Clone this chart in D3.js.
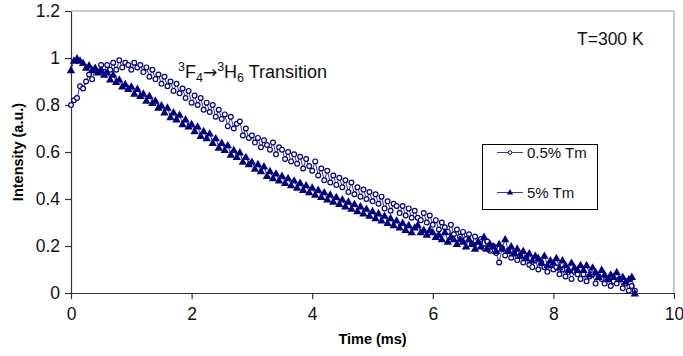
<!DOCTYPE html>
<html>
<head>
<meta charset="utf-8">
<title>Tm decay</title>
<script src="https://cdn.jsdelivr.net/npm/d3@7/dist/d3.min.js"></script>
<style>
  body { margin: 0; background: #fff; }
  svg { font-family: "Liberation Sans", Arial, sans-serif; }
</style>
</head>
<body>
<div id="chart"></div>
<script>
// sampling of the decay curves (ms)
var timeStep = 0.05;

// 0.5% Tm (open circles)
var lowTm = [
  0.80, 0.82, 0.83, 0.88, 0.87, 0.90, 0.93, 0.91, 0.95, 0.94,
  0.97, 0.94, 0.97, 0.95, 0.98, 0.95, 0.99, 0.96, 0.98, 0.97,
  0.95, 0.98, 0.96, 0.97, 0.94, 0.96, 0.92, 0.95, 0.91, 0.93,
  0.89, 0.92, 0.88, 0.90, 0.86, 0.89, 0.85, 0.87, 0.83, 0.86,
  0.81, 0.84, 0.80, 0.83, 0.78, 0.81, 0.77, 0.80, 0.75, 0.78,
  0.74, 0.76, 0.71, 0.75, 0.70, 0.72, 0.73, 0.67, 0.70, 0.66,
  0.67, 0.64, 0.66, 0.62, 0.65, 0.63, 0.61, 0.64, 0.59, 0.62,
  0.61, 0.57, 0.60, 0.56, 0.59, 0.55, 0.58, 0.53, 0.57, 0.54,
  0.52, 0.56, 0.50, 0.53, 0.48, 0.52, 0.47, 0.50, 0.46, 0.49,
  0.45, 0.48, 0.43, 0.47, 0.42, 0.45, 0.41, 0.44, 0.40, 0.43,
  0.39, 0.42, 0.38, 0.41, 0.36, 0.39, 0.35, 0.38, 0.37, 0.34,
  0.37, 0.33, 0.36, 0.32, 0.35, 0.32, 0.31, 0.34, 0.30, 0.33,
  0.29, 0.31, 0.27, 0.30, 0.28, 0.26, 0.29, 0.25, 0.27, 0.24,
  0.26, 0.23, 0.25, 0.21, 0.24, 0.20, 0.23, 0.19, 0.22, 0.18,
  0.20, 0.17, 0.13, 0.19, 0.16, 0.18, 0.15, 0.17, 0.14, 0.16,
  0.13, 0.15, 0.12, 0.11, 0.14, 0.10, 0.13, 0.11, 0.09, 0.12,
  0.10, 0.11, 0.08, 0.10, 0.07, 0.09, 0.06, 0.09, 0.08, 0.06,
  0.08, 0.05, 0.07, 0.08, 0.04, 0.07, 0.06, 0.04, 0.06, 0.03,
  0.05, 0.04, 0.06, 0.02, 0.04, 0.01, 0.03, 0.01
];

// 5% Tm (filled triangles)
var highTm = [
  0.95, 0.99, 1.00, 0.99, 0.98, 0.96, 0.97, 0.95, 0.96, 0.94,
  0.95, 0.93, 0.94, 0.91, 0.93, 0.90, 0.91, 0.88, 0.89, 0.87,
  0.88, 0.85, 0.87, 0.84, 0.85, 0.82, 0.84, 0.81, 0.82, 0.79,
  0.80, 0.77, 0.79, 0.75, 0.77, 0.74, 0.76, 0.72, 0.74, 0.71,
  0.72, 0.69, 0.71, 0.67, 0.69, 0.66, 0.68, 0.64, 0.66, 0.62,
  0.64, 0.61, 0.63, 0.59, 0.61, 0.58, 0.60, 0.56, 0.58, 0.55,
  0.56, 0.53, 0.55, 0.52, 0.54, 0.50, 0.52, 0.49, 0.51, 0.48,
  0.50, 0.47, 0.49, 0.46, 0.48, 0.45, 0.47, 0.44, 0.46, 0.43,
  0.45, 0.42, 0.44, 0.41, 0.43, 0.40, 0.42, 0.39, 0.41, 0.38,
  0.40, 0.37, 0.39, 0.36, 0.38, 0.35, 0.37, 0.34, 0.36, 0.33,
  0.35, 0.32, 0.34, 0.31, 0.33, 0.30, 0.32, 0.29, 0.31, 0.28,
  0.30, 0.27, 0.29, 0.26, 0.28, 0.29, 0.26, 0.27, 0.25, 0.27,
  0.26, 0.24, 0.25, 0.23, 0.26, 0.22, 0.24, 0.23, 0.21, 0.23,
  0.22, 0.20, 0.23, 0.21, 0.19, 0.22, 0.20, 0.24, 0.19, 0.21,
  0.20, 0.18, 0.21, 0.19, 0.23, 0.18, 0.20, 0.17, 0.19, 0.16,
  0.18, 0.15, 0.17, 0.14, 0.16, 0.15, 0.13, 0.16, 0.12, 0.14,
  0.13, 0.15, 0.11, 0.14, 0.12, 0.10, 0.13, 0.11, 0.10, 0.12,
  0.10, 0.12, 0.08, 0.11, 0.09, 0.07, 0.10, 0.08, 0.06, 0.08,
  0.07, 0.09, 0.06, 0.07, 0.05, 0.06, 0.07, 0.00
];

var xTicks = [0, 2, 4, 6, 8, 10];
var xTickLabels = ["0", "2", "4", "6", "8", "10"];
var yTicks = [0, 0.2, 0.4, 0.6, 0.8, 1, 1.2];
var yTickLabels = ["0", "0.2", "0.4", "0.6", "0.8", "1", "1.2"];
var seriesNames = ["0.5% Tm", "5% Tm"];

var W = 683, H = 356;
var plotLeft = 71, plotRight = 674, plotTop = 11, plotBottom = 293;
var navy = "#000080";

var x = d3.scaleLinear().domain([0, 10]).range([plotLeft, plotRight]);
var y = d3.scaleLinear().domain([0, 1.2]).range([plotBottom, plotTop]);

var svg = d3.select("#chart").append("svg")
    .attr("width", W)
    .attr("height", H);

// frame (top / right in grey)
svg.append("path")
    .attr("d", "M" + plotLeft + "," + plotTop + "H" + plotRight + "V" + plotBottom)
    .attr("fill", "none")
    .attr("stroke", "#999")
    .attr("stroke-width", 1);

// axes
var xAxis = svg.append("g")
    .attr("transform", "translate(0," + plotBottom + ")")
    .call(d3.axisBottom(x).tickValues(xTicks)
      .tickFormat(function(d, i) { return xTickLabels[i]; })
      .tickSize(6).tickSizeOuter(0).tickPadding(9));

var yAxis = svg.append("g")
    .attr("transform", "translate(" + plotLeft + ",0)")
    .call(d3.axisLeft(y).tickValues(yTicks)
      .tickFormat(function(d, i) { return yTickLabels[i]; })
      .tickSize(6).tickSizeOuter(0).tickPadding(5));

[xAxis, yAxis].forEach(function(g) {
  g.selectAll("path, line").attr("stroke", "#333").attr("stroke-width", 1.2);
  g.selectAll("text").attr("font-size", 17.5).attr("fill", "#111")
    .attr("font-family", "Liberation Sans, Arial, sans-serif");
});

// axis titles
svg.append("text")
    .attr("x", (plotLeft + plotRight) / 2)
    .attr("y", 344)
    .attr("text-anchor", "middle")
    .attr("font-size", 14.5)
    .attr("font-weight", "bold")
    .text("Time (ms)");

svg.append("text")
    .attr("transform", "translate(23," + ((plotTop + plotBottom) / 2) + ") rotate(-90)")
    .attr("text-anchor", "middle")
    .attr("font-size", 14.5)
    .attr("font-weight", "bold")
    .text("Intensity (a.u.)");

// data
function toPoints(values) {
  return values.map(function(v, i) { return [i * timeStep, v]; });
}
var lowPts = toPoints(lowTm);
var highPts = toPoints(highTm);

var line = d3.line()
    .x(function(d) { return x(d[0]); })
    .y(function(d) { return y(d[1]); });

var triangle = function(cx, cy, s) {
  return "M" + cx + "," + (cy - s) + "L" + (cx + s * 1.05) + "," + (cy + s * 0.85) +
         "L" + (cx - s * 1.05) + "," + (cy + s * 0.85) + "Z";
};

// 0.5% Tm
svg.append("path")
    .datum(lowPts)
    .attr("d", line)
    .attr("fill", "none")
    .attr("stroke", navy)
    .attr("stroke-width", 0.8);

svg.selectAll(".low")
    .data(lowPts)
  .enter().append("circle")
    .attr("class", "low")
    .attr("cx", function(d) { return x(d[0]); })
    .attr("cy", function(d) { return y(d[1]); })
    .attr("r", 2.4)
    .attr("fill", "#fff")
    .attr("stroke", navy)
    .attr("stroke-width", 1.2);

// 5% Tm
svg.append("path")
    .datum(highPts)
    .attr("d", line)
    .attr("fill", "none")
    .attr("stroke", navy)
    .attr("stroke-width", 0.8);

svg.selectAll(".high")
    .data(highPts)
  .enter().append("path")
    .attr("class", "high")
    .attr("d", function(d) { return triangle(x(d[0]), y(d[1]), 4); })
    .attr("fill", navy);

// annotations
svg.append("text")
    .attr("x", 577)
    .attr("y", 45)
    .attr("font-size", 17.5)
    .attr("fill", "#111")
    .text("T=300 K");

var tr = svg.append("text")
    .attr("x", 178)
    .attr("y", 78)
    .attr("font-size", 18)
    .attr("fill", "#111");
tr.append("tspan").attr("font-size", 12.5).attr("dy", -7).text("3");
tr.append("tspan").attr("dy", 7).text("F");
tr.append("tspan").attr("font-size", 12.5).attr("dy", 4).text("4");
tr.append("tspan").attr("dy", -4).attr("font-family", "DejaVu Sans").attr("font-size", 17).text("\u2192");
tr.append("tspan").attr("font-size", 12.5).attr("dy", -7).text("3");
tr.append("tspan").attr("dy", 7).text("H");
tr.append("tspan").attr("font-size", 12.5).attr("dy", 4).text("6");
tr.append("tspan").attr("dy", -4).text(" Transition");

// legend
var lg = svg.append("g");
lg.append("rect")
    .attr("x", 482.5).attr("y", 144.5)
    .attr("width", 115).attr("height", 65)
    .attr("fill", "#fff")
    .attr("stroke", "#000")
    .attr("stroke-width", 1);

var legendRows = [152.5, 192.5];
seriesNames.forEach(function(name, i) {
  var ly = legendRows[i];
  lg.append("line")
      .attr("x1", 497).attr("x2", 523)
      .attr("y1", ly).attr("y2", ly)
      .attr("stroke", "#3a3aa0").attr("stroke-width", 1);
  if (i === 0) {
    lg.append("circle").attr("cx", 510).attr("cy", ly).attr("r", 1.8)
        .attr("fill", "#fff").attr("stroke", navy).attr("stroke-width", 1);
  } else {
    lg.append("path").attr("d", triangle(510, ly - 0.5, 3)).attr("fill", navy);
  }
  lg.append("text")
      .attr("x", 527).attr("y", ly + 5.5)
      .attr("font-size", 15)
      .attr("fill", "#111")
      .text(name);
});
</script>
</body>
</html>
